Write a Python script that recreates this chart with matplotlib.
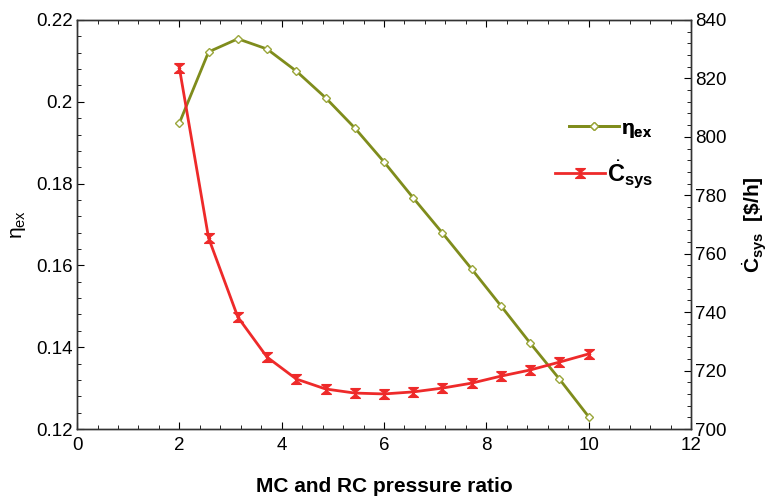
import matplotlib
matplotlib.use("Agg")
import matplotlib.pyplot as plt
import numpy as np
from matplotlib.ticker import MultipleLocator

plt.rcParams["font.family"] = ["Liberation Sans", "DejaVu Sans"]
plt.rcParams["mathtext.fontset"] = "custom"
plt.rcParams["mathtext.rm"] = "Liberation Sans"
plt.rcParams["mathtext.it"] = "Liberation Sans:italic"
plt.rcParams["mathtext.bf"] = "Liberation Sans:bold"

# pressure ratio (shared x)
pressure_ratio = [2.0, 2.571, 3.143, 3.714, 4.286, 4.857, 5.429, 6.0,
                  6.571, 7.143, 7.714, 8.286, 8.857, 9.429, 10.0]
# exergy efficiency (left axis)
eta_ex = [0.1948, 0.2122, 0.2154, 0.2129, 0.2075, 0.2010, 0.1936, 0.1853,
          0.1765, 0.1679, 0.1591, 0.1501, 0.1410, 0.1322, 0.1230]
# system cost rate, $/h (right axis)
c_sys = [823.6, 765.4, 738.3, 724.6, 717.1, 713.7, 712.3, 712.0,
         712.7, 714.0, 715.7, 718.1, 720.2, 722.9, 725.7]

OLIVE = "#7f8c1c"
RED = "#ee2a2a"
TICK_FS = 13.5

# hourglass-shaped marker for the cost curve
hourglass = [(-1, 1), (1, 1), (-0.25, 0), (1, -1), (-1, -1), (0.25, 0), (-1, 1)]

fig = plt.figure(figsize=(7.75, 5), dpi=100)
ax = fig.add_axes([0.0994, 0.142, 0.7922, 0.818])
ax2 = ax.twinx()

(l1,) = ax.plot(pressure_ratio, eta_ex, color=OLIVE, lw=2, marker="D",
                markersize=4.5, markerfacecolor="white",
                markeredgecolor="#9aa63a", markeredgewidth=1.0,
                label=r"η$_{\mathbf{ex}}$", zorder=3)
(l2,) = ax2.plot(pressure_ratio, c_sys, color=RED, lw=2, marker=hourglass,
                 markersize=7, markerfacecolor=RED, markeredgecolor=RED,
                 label=r"$\dot{\mathbf{C}}_{\mathbf{sys}}$", zorder=3)

ax.set_xlim(0, 12)
ax.set_ylim(0.12, 0.22)
ax2.set_ylim(700, 840)

ax.xaxis.set_major_locator(MultipleLocator(2))
ax.xaxis.set_minor_locator(MultipleLocator(0.4))
ax.yaxis.set_major_locator(MultipleLocator(0.02))
ax.yaxis.set_minor_locator(MultipleLocator(0.004))
ax2.yaxis.set_major_locator(MultipleLocator(20))
ax2.yaxis.set_minor_locator(MultipleLocator(4))

ax.set_yticks([0.12, 0.14, 0.16, 0.18, 0.2, 0.22])
ax.set_yticklabels(["0.12", "0.14", "0.16", "0.18", "0.2", "0.22"])

ax.tick_params(axis="both", which="both", direction="in", top=True,
               labelsize=TICK_FS, pad=3)
ax.tick_params(axis="x", which="both", pad=6)
ax.tick_params(which="major", length=5)
ax.tick_params(which="minor", length=3)
ax.tick_params(axis="y", right=False)
ax2.tick_params(axis="y", which="both", direction="in", labelsize=TICK_FS, pad=3)
ax2.tick_params(which="major", length=5)
ax2.tick_params(which="minor", length=3)

for spine in list(ax.spines.values()) + list(ax2.spines.values()):
    spine.set_linewidth(1.0)
    spine.set_color("#333333")

ax.set_xlabel("MC and RC pressure ratio", fontsize=15, fontweight="bold",
              labelpad=16)
ax.set_ylabel(r"η$_{\rm ex}$", fontsize=15, labelpad=6)
ax2.set_ylabel(r"$\dot{\mathbf{C}}_{\mathbf{sys}}$  [\$/h]", fontsize=15,
               fontweight="bold", labelpad=10)

leg1 = fig.legend(handles=[l1], loc="center left",
                  bbox_to_anchor=(0.710, 0.742), frameon=False,
                  handlelength=2.4, fontsize=15, handletextpad=0.1)
for t in leg1.get_texts():
    t.set_fontweight("bold")
fig.add_artist(leg1)
fig.legend(handles=[l2], loc="center left", bbox_to_anchor=(0.689, 0.652),
           frameon=False, handlelength=2.1, fontsize=17, handletextpad=0.1)

fig.savefig("out.png", dpi=100)
